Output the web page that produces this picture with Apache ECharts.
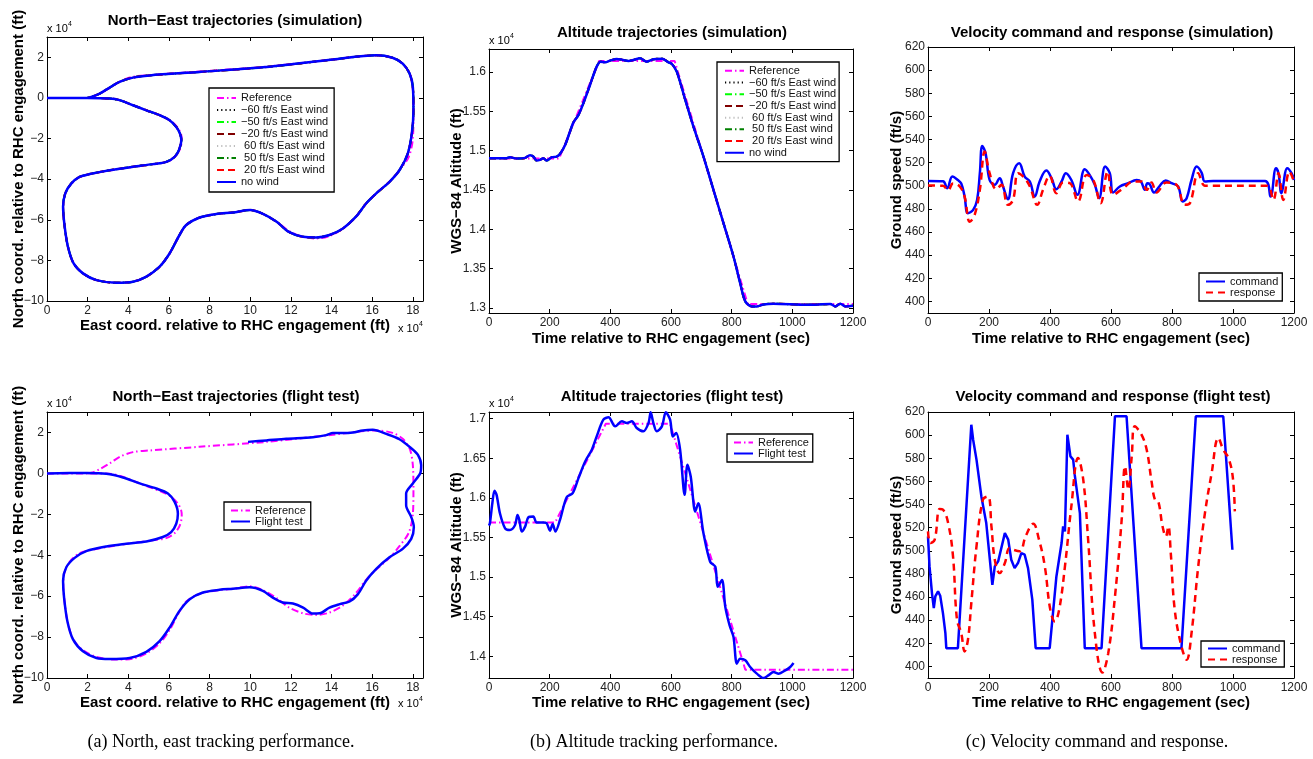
<!DOCTYPE html>
<html><head><meta charset="utf-8">
<script src="https://cdn.jsdelivr.net/npm/echarts@6/dist/echarts.min.js"></script>
<style>html,body{margin:0;padding:0;background:#fff}#c{width:1313px;height:759px}</style>
</head><body><div id="c"></div>
<script>
// ---------------- tick labels ----------------
const neTicksX = [0,2,4,6,8,10,12,14,16,18];          // x 10^4 ft
const neTicksY = [-10,-8,-6,-4,-2,0,2];               // x 10^4 ft
const timeTicks = [0,200,400,600,800,1000,1200];      // sec
const altSimTicks = [13000,13500,14000,14500,15000,15500,16000]; // ft
const altFltTicks = [14000,14500,15000,15500,16000,16500,17000]; // ft
const speedTicks = [400,420,440,460,480,500,520,540,560,580,600,620]; // ft/s

// ---------------- series names ----------------
const simNames = ['Reference','\u221260 ft/s East wind','\u221250 ft/s East wind','\u221220 ft/s East wind',' 60 ft/s East wind',' 50 ft/s East wind',' 20 ft/s East wind','no wind'];
const fltNames = ['Reference','Flight test'];
const velNames = ['command','response'];

// ---------------- North-East paths [east, north] (x 10^4 ft) ----------------
const refPath = [[0,0],[1,0],[2,0],[3.05,-0.02],[3.6,-0.12],[4.25,-0.37],[4.9,-0.62],[5.55,-0.86],[6.05,-1.1],[6.42,-1.45],[6.6,-1.8],[6.63,-2.1],[6.53,-2.55],[6.3,-2.9],[5.9,-3.15],[5.2,-3.27],[4.2,-3.4],[3.1,-3.57],[2.1,-3.76],[1.6,-3.9],[1.2,-4.22],[0.9,-4.7],[0.8,-5.36],[0.87,-6.34],[1.03,-7.33],[1.31,-8.15],[1.77,-8.64],[2.43,-8.97],[3.4,-9.1],[4.23,-9.05],[4.89,-8.8],[5.54,-8.31],[6.03,-7.66],[6.52,-6.75],[6.85,-6.26],[7.51,-5.89],[8.33,-5.72],[9.15,-5.64],[10.0,-5.52],[10.6,-5.7],[11.3,-6.1],[11.9,-6.55],[12.6,-6.84],[13.25,-6.92],[13.9,-6.8],[14.56,-6.45],[15.2,-5.85],[15.7,-5.2],[16.2,-4.7],[16.85,-4.13],[17.34,-3.56],[17.8,-2.9],[18.0,-2.0],[18.03,-0.8],[18.0,0.4],[17.85,1.2],[17.5,1.69],[17.0,1.98],[16.2,2.1],[14.07,1.89],[10.8,1.54],[7.5,1.3],[5.05,1.12],[4.23,1.04],[3.6,0.82],[3.1,0.5],[2.6,0.21],[2.2,0.03],[2.0,0]];
const simNoWindPath = [[0,0],[0.95,0],[1.97,0],[3.08,-0.03],[3.57,-0.11],[4.23,-0.36],[4.89,-0.61],[5.54,-0.85],[6.03,-1.1],[6.36,-1.43],[6.54,-1.75],[6.61,-2.08],[6.49,-2.57],[6.28,-2.9],[5.87,-3.15],[5.21,-3.26],[4.23,-3.39],[3.08,-3.56],[2.1,-3.75],[1.6,-3.89],[1.2,-4.21],[0.9,-4.7],[0.79,-5.36],[0.87,-6.34],[1.03,-7.33],[1.31,-8.15],[1.77,-8.64],[2.43,-8.97],[3.41,-9.1],[4.23,-9.05],[4.89,-8.8],[5.54,-8.31],[6.03,-7.66],[6.52,-6.75],[6.85,-6.26],[7.51,-5.89],[8.33,-5.72],[9.15,-5.64],[10.0,-5.52],[10.6,-5.7],[11.3,-6.1],[11.9,-6.6],[12.6,-6.84],[13.25,-6.87],[13.9,-6.75],[14.56,-6.43],[15.2,-5.85],[15.7,-5.2],[16.2,-4.7],[16.85,-4.13],[17.34,-3.56],[17.75,-2.74],[17.95,-1.75],[18.03,-0.6],[18.0,0.54],[17.84,1.2],[17.5,1.69],[17.0,1.98],[16.2,2.1],[14.07,1.89],[10.8,1.52],[7.5,1.28],[5.05,1.11],[4.23,1.0],[3.57,0.79],[3.08,0.51],[2.59,0.21],[2.18,0.05],[1.97,0]];
const flightPath = [[0,0],[1.97,0.02],[2.92,-0.02],[3.74,-0.2],[4.56,-0.49],[5.38,-0.74],[5.95,-0.98],[6.28,-1.39],[6.44,-1.97],[6.36,-2.46],[6.11,-2.87],[5.7,-3.11],[4.89,-3.33],[3.9,-3.44],[2.92,-3.57],[1.93,-3.8],[1.36,-4.13],[0.95,-4.59],[0.79,-5.25],[0.84,-6.07],[1.0,-7.21],[1.28,-8.11],[1.77,-8.69],[2.43,-9.02],[3.08,-9.07],[4.07,-9.02],[4.89,-8.72],[5.54,-8.2],[6.03,-7.54],[6.52,-6.72],[7.02,-6.15],[7.67,-5.82],[8.49,-5.69],[9.15,-5.64],[9.97,-5.57],[10.62,-5.74],[11.11,-6.07],[11.6,-6.31],[12.1,-6.36],[12.6,-6.56],[13.08,-6.85],[13.41,-6.84],[13.9,-6.56],[14.4,-6.39],[14.89,-6.26],[15.3,-5.9],[15.7,-5.25],[16.2,-4.67],[16.85,-4.1],[17.5,-3.69],[17.92,-3.2],[18.05,-2.62],[17.92,-2.13],[17.67,-1.56],[17.67,-0.98],[18.0,-0.49],[18.36,0],[18.41,0.41],[18.25,0.9],[17.92,1.23],[17.34,1.67],[16.69,1.93],[16.03,2.13],[15.54,2.1],[15.05,2.0],[14.56,1.97],[14.07,1.97],[13.74,1.87],[13.08,1.77],[11.77,1.69],[10.79,1.61],[9.89,1.54]];

// ---------------- altitude [t sec, ft] ----------------
const simAltRef = [[0,14900],[231,14900],[363,16140],[612,16140],[853,13050],[1200,13050]];
const simAltNoWind = [[0,14904],[58,14904],[69,14917],[91,14900],[119,14908],[135,14942],[146,14925],[157,14874],[168,14883],[179,14904],[190,14874],[207,14917],[223,14925],[234,14959],[251,15073],[267,15243],[278,15357],[295,15454],[311,15602],[333,15835],[355,16068],[368,16131],[383,16123],[399,16144],[421,16165],[438,16157],[460,16140],[476,16152],[498,16174],[520,16131],[542,16161],[570,16169],[592,16123],[603,16102],[619,16004],[647,15645],[674,15306],[707,14925],[740,14502],[773,14079],[806,13655],[828,13317],[845,13084],[867,13021],[883,13021],[905,13046],[938,13055],[1048,13042],[1125,13050],[1142,13021],[1158,13055],[1175,13021],[1200,13029]];
const fltAltRef = [[0,15690],[218,15690],[385,16935],[597,16935],[845,13831],[1200,13831]];
const fltAlt = [[0,15650],[3,15679],[11,15932],[18,16089],[25,16038],[36,15806],[53,15616],[69,15595],[86,15658],[94,15785],[100,15722],[108,15574],[119,15637],[130,15755],[146,15764],[157,15688],[179,15688],[190,15679],[201,15586],[210,15671],[219,15574],[234,15722],[256,16008],[276,16059],[295,16249],[317,16460],[339,16608],[355,16776],[377,16987],[394,17017],[416,16903],[438,16966],[454,16945],[471,16966],[487,16882],[509,16840],[526,16945],[533,17080],[542,16945],[553,16840],[570,16903],[583,17080],[597,16987],[606,16776],[617,16818],[630,16608],[645,16038],[654,16418],[665,16270],[680,15827],[690,15932],[707,15553],[729,15194],[746,15131],[754,14878],[768,14962],[779,14624],[793,14392],[806,14245],[817,13907],[828,13970],[845,13949],[861,13865],[883,13781],[905,13726],[921,13759],[938,13802],[955,13781],[977,13823],[993,13865],[1004,13916]];

// ---------------- ground speed [t sec, ft/s] ----------------
const simCmd = [[0,504.2],[49,504],[63,497.9],[80,508],[98,505],[109,502],[120,490.7],[131,476.3],[148,479.2],[161,487.8],[170,510.9],[178,534.5],[189,528],[202,505],[219,500.8],[235,506.6],[246,499.4],[262,488.4],[279,510.9],[299,519.5],[317,508],[334,503.7],[350,490.7],[366,503.7],[388,513.2],[405,506.6],[421,497],[438,503.7],[452,510.9],[470,505],[490,492.2],[514,514.3],[530,509.4],[547,500.8],[561,489.3],[581,516.6],[596,510.9],[607,494.2],[629,499.4],[656,502.2],[684,505],[698,503.7],[711,496.5],[719,502.2],[727,501.4],[741,494.2],[760,500],[779,504.5],[799,502.2],[820,499.4],[835,486.4],[848,489.3],[864,505],[881,516.6],[897,511.4],[908,503.7],[935,504.2],[1105,504.2],[1123,490.7],[1141,515.2],[1149,510.9],[1159,493.6],[1178,515.2],[1192,510.9],[1200,505]];
const simResp = [[0,500.2],[49,500],[66,496],[82,502],[104,499.4],[120,490.7],[137,469],[153,474.9],[170,496.5],[186,529.6],[202,510.9],[224,497],[241,500.8],[262,483.5],[279,487.8],[295,510.9],[314,507.4],[334,499.4],[358,483.5],[377,496.5],[399,508.6],[421,493.6],[443,502.8],[465,502.2],[492,486.4],[520,509.4],[542,505],[566,485],[589,512.3],[607,492.2],[640,497.9],[673,503.7],[700,503.7],[717,496.5],[733,502.8],[749,494.2],[782,502.8],[815,500.8],[842,483.5],[859,485],[886,510.9],[908,500],[935,500],[1110,500],[1132,487.8],[1149,510.9],[1165,487.8],[1185,512.3],[1200,503.7]];
const fltCmd = [[0,512.4],[5,486.5],[13,463.4],[19,450.4],[24,460.5],[33,464.9],[40,461.1],[49,446.1],[57,428.8],[60,415.8],[98,415.8],[142,609],[148,596],[159,578.8],[175,547],[191,524],[211,470.6],[219,486.5],[230,490.8],[252,515.3],[263,509.6],[273,492.3],[284,485],[295,489.4],[306,498],[317,496.6],[328,485],[342,457.7],[353,415.8],[399,415.8],[421,477.8],[438,506.7],[443,521.1],[449,516.8],[457,600.4],[467,581.6],[476,578.8],[481,565.8],[498,532.6],[514,415.8],[569,415.8],[613,616.3],[651,616.3],[700,415.8],[831,415.8],[878,616.3],[968,616.3],[998,500.9]];
const fltResp = [[0,516.8],[8,506.7],[22,509.6],[38,536.1],[49,535.5],[66,524],[82,495.1],[95,440.4],[109,428.8],[120,413],[131,423.1],[142,454.8],[159,503.8],[180,544.2],[197,547],[208,521.1],[219,492.3],[235,480.7],[252,489.4],[267,502.4],[279,500.9],[301,499.5],[320,512.4],[345,523.4],[364,509.6],[383,486.5],[401,449],[416,438.9],[430,449],[449,486.5],[470,538.4],[492,580.2],[509,561.5],[525,509.6],[547,428.8],[572,394.8],[591,411.5],[613,460.5],[635,526.9],[646,573],[657,552.8],[668,581.6],[678,607.6],[700,600.4],[717,587.4],[733,560],[744,544.2],[755,542.7],[769,521.1],[780,512.4],[788,521.1],[796,498],[809,449],[831,417.3],[848,405.8],[864,428.8],[886,486.5],[908,532.6],[930,567.2],[952,597.5],[968,587.4],[985,580.2],[999,564.4],[1006,534.1]];

// ---------------- build option ----------------
const FF = '"Liberation Sans", Arial, Helvetica, sans-serif';
const neFmt = v => String(v).replace('-', '\u2212');
const altFmt = v => String(+(v/10000).toFixed(2));
const plainFmt = v => String(v);

const grids = [
  {left:47, top:37, width:376, height:264},
  {left:489, top:49, width:364, height:264},
  {left:928, top:47, width:366, height:266},
  {left:47, top:412, width:376, height:266},
  {left:489, top:412, width:364, height:266},
  {left:928, top:412, width:366, height:266}
];

function axes(gi, isX, min, max, ticks, fmt, name, nameGap) {
  function base(pos) {
    return {
      gridIndex: gi, type: 'value', min: min, max: max, position: pos,
      axisLine: {show: true, onZero: false, lineStyle: {color: '#000', width: 1}},
      axisTick: {show: true, inside: true, length: 4, customValues: ticks, lineStyle: {color: '#000', width: 1}},
      splitLine: {show: false}
    };
  }
  const main = base(isX ? 'bottom' : 'left');
  main.axisLabel = {show: true, customValues: ticks, formatter: fmt, color: '#222', fontSize: 12, fontFamily: FF, margin: isX ? 4 : 3};
  main.name = name; main.nameLocation = 'middle'; main.nameGap = nameGap;
  main.nameMoveOverlap = false;
  main.nameTextStyle = {fontWeight: 'bold', fontSize: 15, color: '#000', fontFamily: FF};
  const mirror = base(isX ? 'top' : 'right');
  mirror.axisLabel = {show: false};
  return [main, mirror];
}

const xAxes = [], yAxes = [];
const xl = 'East coord. relative to RHC engagement (ft)';
const yl = 'North coord. relative to RHC engagement (ft)';
const tl = 'Time relative to RHC engagement (sec)';
xAxes.push(...axes(0, true, 0, 18.5, neTicksX, neFmt, xl, 17));
yAxes.push(...axes(0, false, -10, 3, neTicksY, neFmt, yl, 21));
xAxes.push(...axes(1, true, 0, 1200, timeTicks, plainFmt, tl, 18));
yAxes.push(...axes(1, false, 12937, 16292, altSimTicks, altFmt, 'WGS\u221284 Altitude (ft)', 25));
xAxes.push(...axes(2, true, 0, 1200, timeTicks, plainFmt, tl, 18));
yAxes.push(...axes(2, false, 390, 620, speedTicks, plainFmt, 'Ground speed (ft/s)', 24));
xAxes.push(...axes(3, true, 0, 18.5, neTicksX, neFmt, xl, 17));
yAxes.push(...axes(3, false, -10, 3, neTicksY, neFmt, yl, 21));
xAxes.push(...axes(4, true, 0, 1200, timeTicks, plainFmt, tl, 17));
yAxes.push(...axes(4, false, 13726, 17084, altFltTicks, altFmt, 'WGS\u221284 Altitude (ft)', 25));
xAxes.push(...axes(5, true, 0, 1200, timeTicks, plainFmt, tl, 17));
yAxes.push(...axes(5, false, 390, 620, speedTicks, plainFmt, 'Ground speed (ft/s)', 24));

const DASHDOT = [7,3,1.5,3], DOT = [1.2,3], DASH = [7,4];
const styles = {
  'Reference': {color:'#ff00ff', width:2, type:DASHDOT},
  '\u221260 ft/s East wind': {color:'#000000', width:1.3, type:DOT},
  '\u221250 ft/s East wind': {color:'#00ff00', width:2, type:DASHDOT},
  '\u221220 ft/s East wind': {color:'#800000', width:2, type:DASH},
  ' 60 ft/s East wind': {color:'#bdbdbd', width:1.3, type:DOT},
  ' 50 ft/s East wind': {color:'#008000', width:2, type:DASHDOT},
  ' 20 ft/s East wind': {color:'#ff0000', width:2, type:DASH},
  'no wind': {color:'#0000ff', width:2.5, type:'solid'},
  'Flight test': {color:'#0000ff', width:2.5, type:'solid'},
  'command': {color:'#0000ff', width:2.5, type:'solid'},
  'response': {color:'#ff0000', width:2.5, type:[7,5]}
};
function line(name, idx, data, smooth) {
  const s = styles[name];
  return {type:'line', name:name, xAxisIndex: idx*2, yAxisIndex: idx*2, data:data,
    symbol:'none', showSymbol:false, smooth: smooth, animation:false, silent:true,
    color: s.color, itemStyle:{color:s.color},
    lineStyle:{color:s.color, width:s.width, type:s.type}};
}

const series = [];
// panel 1 : simulation N-E
series.push(line('Reference', 0, refPath, 0.3));
simNames.slice(1, 7).forEach(n => series.push(line(n, 0, simNoWindPath, 0.3)));
series.push(line('no wind', 0, simNoWindPath, 0.3));
// panel 2 : simulation altitude
series.push(line('Reference', 1, simAltRef, false));
simNames.slice(1, 7).forEach(n => series.push(line(n, 1, simAltNoWind, 0.3)));
series.push(line('no wind', 1, simAltNoWind, 0.3));
// panel 3 : simulation velocity
series.push(line('command', 2, simCmd, 0.4));
series.push(line('response', 2, simResp, 0.4));
// panel 4 : flight N-E
series.push(line('Reference', 3, refPath, 0.3));
series.push(line('Flight test', 3, flightPath, 0.3));
// panel 5 : flight altitude
series.push(line('Reference', 4, fltAltRef, false));
series.push(line('Flight test', 4, fltAlt, 0.3));
// panel 6 : flight velocity
series.push(line('command', 5, fltCmd, false));
series.push(line('response', 5, fltResp, 0.4));

function legend(names, left, top, lh, pad) {
  return {data: names, left: left, top: top, orient: 'vertical', selectedMode: false,
    backgroundColor: '#fff', borderColor: '#000', borderWidth: 1.3, borderRadius: 0,
    padding: pad, itemWidth: 19, itemHeight: 8, itemGap: 0,
    itemStyle: {opacity: 0, borderWidth: 0},
    textStyle: {fontSize: 11, fontFamily: FF, color: '#111', lineHeight: lh}};
}

function txt(x, y, s, font, align) {
  return {type:'text', x:x, y:y, silent:true,
    style:{text:s, font:font, fill:'#000', textAlign:align||'left', textVerticalAlign:'middle', align:align||'left', verticalAlign:'middle'}};
}
const TF = 'bold 15px ' + FF;
const SF = '11px ' + FF;
const SUP = '7px ' + FF;
const CF = '18px "Liberation Serif", "Times New Roman", serif';

const graphics = [
  txt(235, 21, 'North\u2212East trajectories (simulation)', TF, 'center'),
  txt(672, 33, 'Altitude trajectories (simulation)', TF, 'center'),
  txt(1112, 33, 'Velocity command and response (simulation)', TF, 'center'),
  txt(236, 397, 'North\u2212East trajectories (flight test)', TF, 'center'),
  txt(672, 397, 'Altitude trajectories (flight test)', TF, 'center'),
  txt(1113, 397, 'Velocity command and response (flight test)', TF, 'center'),
  // x 10^4 multipliers
  txt(47, 29, 'x 10', SF), txt(68, 24, '4', SUP),
  txt(398, 329, 'x 10', SF), txt(419, 324, '4', SUP),
  txt(489, 41, 'x 10', SF), txt(510, 36, '4', SUP),
  txt(47, 404, 'x 10', SF), txt(68, 399, '4', SUP),
  txt(398, 704, 'x 10', SF), txt(419, 699, '4', SUP),
  txt(489, 404, 'x 10', SF), txt(510, 399, '4', SUP),
  // captions
  txt(221, 742, '(a) North, east tracking performance.', CF, 'center'),
  txt(654, 742, '(b) Altitude tracking performance.', CF, 'center'),
  txt(1097, 742, '(c) Velocity command and response.', CF, 'center')
];

const option = {
  backgroundColor: '#fff',
  animation: false,
  grid: grids,
  xAxis: xAxes,
  yAxis: yAxes,
  legend: [
    legend(simNames, 209, 88, 12, [4,6,4,7]),
    legend(simNames, 717, 62, 11.7, [3,3,3,7]),
    legend(velNames, 1199, 273, 11, [3,4,3,6]),
    legend(fltNames, 224, 502, 11, [3,5,3,6]),
    legend(fltNames, 727, 434, 11, [3,4,3,6]),
    legend(velNames, 1201, 641, 11, [2,4,2,6])
  ],
  series: series,
  graphic: {elements: graphics}
};

const chart = echarts.init(document.getElementById('c'), null, {renderer: 'canvas'});
chart.setOption(option);
</script>
</body></html>
